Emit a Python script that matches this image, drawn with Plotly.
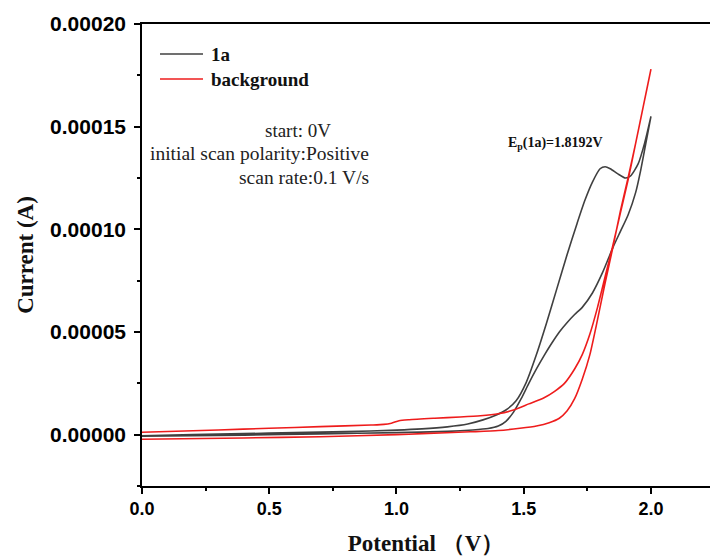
import plotly.graph_objects as go

# ---- data (current in units of 1e-5 A) ----
v_1a_fwd = [0.0, 0.2, 0.4, 0.6, 0.8, 1.0, 1.1, 1.2, 1.28, 1.34, 1.39, 1.43, 1.47, 1.51, 1.55,
            1.59, 1.63, 1.67, 1.71, 1.74, 1.77, 1.80, 1.82, 1.84, 1.87, 1.90, 1.92, 1.95, 1.975, 2.0]
i_1a_fwd = [-0.06, 0.0, 0.05, 0.1, 0.15, 0.22, 0.28, 0.38, 0.52, 0.72, 0.95, 1.2, 1.65, 2.55, 3.9,
            5.45, 7.1, 8.75, 10.3, 11.4, 12.3, 12.95, 13.05, 12.95, 12.7, 12.5, 12.6, 13.2, 14.2, 15.5]

v_1a_rev = [2.0, 1.98, 1.96, 1.94, 1.91, 1.88, 1.85, 1.81, 1.77, 1.73, 1.70, 1.67, 1.64, 1.61,
            1.58, 1.55, 1.52, 1.49, 1.46, 1.43, 1.40, 1.36, 1.3, 1.2, 1.0, 0.7, 0.4, 0.0]
i_1a_rev = [15.5, 14.2, 12.9, 11.8, 10.7, 9.9, 9.1, 7.9, 6.9, 6.2, 5.85, 5.45, 5.0, 4.45,
            3.85, 3.2, 2.5, 1.75, 1.1, 0.65, 0.42, 0.3, 0.23, 0.16, 0.1, 0.04, -0.02, -0.08]

v_bg_fwd = [0.0, 0.3, 0.5, 0.7, 0.9, 0.95, 0.98, 1.01, 1.05, 1.15, 1.25, 1.33, 1.4, 1.46, 1.52,
            1.58, 1.62, 1.66, 1.70, 1.73, 1.76, 1.79, 1.82, 1.85, 1.88, 1.91, 1.94, 1.97, 2.0]
i_bg_fwd = [0.12, 0.23, 0.31, 0.39, 0.47, 0.5, 0.56, 0.68, 0.73, 0.8, 0.86, 0.92, 1.02, 1.2, 1.5,
            1.8, 2.1, 2.5, 3.2, 3.9, 4.9, 6.2, 7.7, 9.2, 10.8, 12.4, 14.2, 16.0, 17.8]

v_bg_rev = [2.0, 1.97, 1.94, 1.91, 1.88, 1.85, 1.82, 1.79, 1.76, 1.73, 1.70, 1.67, 1.64, 1.6,
            1.55, 1.485, 1.4, 1.29, 1.1, 1.0, 0.7, 0.4, 0.0]
i_bg_rev = [17.8, 16.0, 14.2, 12.5, 10.9, 9.1, 7.4, 5.6, 3.9, 2.7, 1.75, 1.15, 0.8, 0.58,
            0.42, 0.31, 0.2, 0.14, 0.05, 0.0, -0.1, -0.16, -0.22]

SCALE = 1e-5
x_ticks = [0.0, 0.5, 1.0, 1.5, 2.0]
y_ticks = [0.0, 0.00005, 0.0001, 0.00015, 0.0002]

GRAY = "#404040"
RED = "#ee1c1c"

fig = go.Figure()
fig.add_trace(go.Scatter(x=v_1a_fwd + v_1a_rev, y=[i * SCALE for i in i_1a_fwd + i_1a_rev],
                         mode="lines", name="1a",
                         line=dict(color=GRAY, width=1.6, shape="spline", smoothing=0.6)))
fig.add_trace(go.Scatter(x=v_bg_fwd + v_bg_rev, y=[i * SCALE for i in i_bg_fwd + i_bg_rev],
                         mode="lines", name="background",
                         line=dict(color=RED, width=1.6, shape="spline", smoothing=0.6)))

L, R, T, B = 142, 710, 24, 486
W, H = 710, 556
def px(x):
    return (x - L) / (R - L)
def py(y):
    return (B - y) / (B - T)

serif = "Liberation Serif"
sans = "Liberation Sans"

annotations = []
shapes = []
# manual legend
for yy, name, col in [(54, "1a", GRAY), (79, "background", RED)]:
    shapes.append(dict(type="line", xref="paper", yref="paper", x0=px(160), x1=px(203),
                       y0=py(yy), y1=py(yy), line=dict(color=col, width=1.6)))
    annotations.append(dict(xref="paper", yref="paper", x=px(209), y=py(yy), text="<b>%s</b>" % name,
                            showarrow=False, xanchor="left", yanchor="middle",
                            font=dict(family=serif, size=19, color="#111")))

annotations += [
    dict(xref="paper", yref="paper", x=px(333), y=py(130), text="start: 0V", showarrow=False,
         xanchor="right", yanchor="middle", font=dict(family=serif, size=19, color="#222")),
    dict(xref="paper", yref="paper", x=px(371), y=py(153), text="initial scan polarity:Positive",
         showarrow=False, xanchor="right", yanchor="middle", font=dict(family=serif, size=19.5, color="#222")),
    dict(xref="paper", yref="paper", x=px(371), y=py(177), text="scan rate:0.1 V/s", showarrow=False,
         xanchor="right", yanchor="middle", font=dict(family=serif, size=19.5, color="#222")),
    dict(xref="paper", yref="paper", x=px(506), y=py(143), text="<b>E<sub>p</sub>(1a)=1.8192V</b>",
         showarrow=False, xanchor="left", yanchor="middle", font=dict(family=serif, size=14, color="#111")),
]

fig.update_layout(
    width=W, height=H, margin=dict(l=L, r=W - R, t=T, b=H - B),
    paper_bgcolor="white", plot_bgcolor="white", showlegend=False,
    annotations=annotations, shapes=shapes,
    xaxis=dict(range=[0, 2.232], tickvals=x_ticks, tickformat=".1f",
               showline=True, linecolor="black", linewidth=1.6, mirror=True,
               ticks="outside", ticklen=6, tickwidth=1.5, tickcolor="black",
               minor=dict(dtick=0.25, tick0=0, ticks="outside", ticklen=3, tickwidth=1.5, tickcolor="black"),
               showgrid=False, zeroline=False,
               tickfont=dict(family=sans, size=18, color="black", weight="bold"),
               title=dict(text="Potential （V）", standoff=16,
                          font=dict(family=serif, size=23, color="#111", weight="bold"))),
    yaxis=dict(range=[-0.000025, 0.0002], tickvals=y_ticks, tickformat=".5f",
               showline=True, linecolor="black", linewidth=1.6,
               ticks="outside", ticklen=6, tickwidth=1.5, tickcolor="black",
               ticklabelstandoff=4,
               minor=dict(dtick=0.000025, tick0=0, ticks="outside", ticklen=3, tickwidth=1.5, tickcolor="black"),
               showgrid=False, zeroline=False,
               tickfont=dict(family=sans, size=21, color="black", weight="bold"),
               title=dict(text="Current (A)", standoff=10,
                          font=dict(family=serif, size=23, color="#111", weight="bold"))),
)

fig.write_html("out.html")
